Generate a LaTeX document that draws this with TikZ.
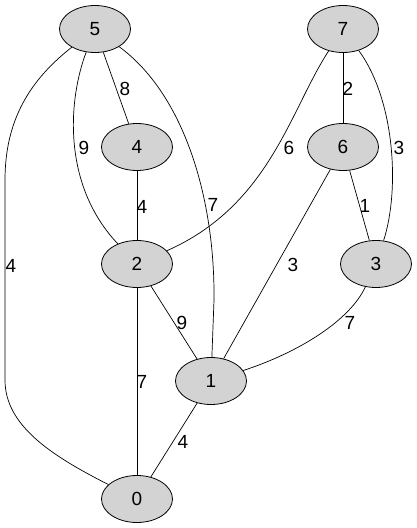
\documentclass[tikz,border=0pt]{standalone}
\usepackage{fontspec}
\setmainfont{Liberation Sans}
\usepackage{tikz}
\usetikzlibrary{shapes.geometric}
\definecolor{NodeGray}{HTML}{D3D3D3}

\begin{document}
\begin{tikzpicture}[
    x=1pt,y=-1pt,
    vertex/.style={ellipse,draw=black,fill=NodeGray,line width=0.8pt,minimum width=71pt,minimum height=47pt,inner sep=0pt,font=\fontsize{19}{21}\selectfont},
    link/.style={draw=black,line width=0.7pt},
    weight/.style={inner sep=0pt,font=\fontsize{19}{21}\selectfont}
]
\useasboundingbox (0,0) rectangle (417,528);
\node[vertex] (v5) at (95,29) {5};
\node[vertex] (v7) at (343,29) {7};
\node[vertex] (v4) at (137,147) {4};
\node[vertex] (v6) at (343,147) {6};
\node[vertex] (v2) at (137,264) {2};
\node[vertex] (v3) at (376,264) {3};
\node[vertex] (v1) at (211,381) {1};
\node[vertex] (v0) at (137,499) {0};
% edges
\draw[link] (v5) .. controls (30,80) and (5,120) .. (5,180) -- (5,380) .. controls (5,425) and (50,455) .. (v0);
\draw[link] (v5) -- (v4);
\draw[link] (v5) .. controls (68,100) and (62,185) .. (v2);
\draw[link] (v5) .. controls (185,95) and (215,200) .. (214,300) -- (v1);
\draw[link] (v4) -- (v2);
\draw[link] (v7) .. controls (290,110) and (270,205) .. (v2);
\draw[link] (v7) -- (v6);
\draw[link] (v7) .. controls (395,100) and (400,190) .. (v3);
\draw[link] (v6) -- (v3);
\draw[link] (v6) -- (v1);
\draw[link] (v2) -- (v1);
\draw[link] (v3) .. controls (350,320) and (300,352) .. (v1);
\draw[link] (v2) -- (v0);
\draw[link] (v1) -- (v0);
% weights
\node[weight] (w50) at (11,266) {4};
\node[weight] (w54) at (125,89) {8};
\node[weight] (w52) at (84,148) {9};
\node[weight] (w51) at (213,205) {7};
\node[weight] (w42) at (142,207) {4};
\node[weight] (w72) at (289,148) {6};
\node[weight] (w76) at (348,89) {2};
\node[weight] (w73) at (399,148) {3};
\node[weight] (w63) at (365,206) {1};
\node[weight] (w61) at (293,265) {3};
\node[weight] (w21) at (182,323) {9};
\node[weight] (w31) at (350,323) {7};
\node[weight] (w20) at (142,382) {7};
\node[weight] (w10) at (183,442) {4};
\end{tikzpicture}
\end{document}
